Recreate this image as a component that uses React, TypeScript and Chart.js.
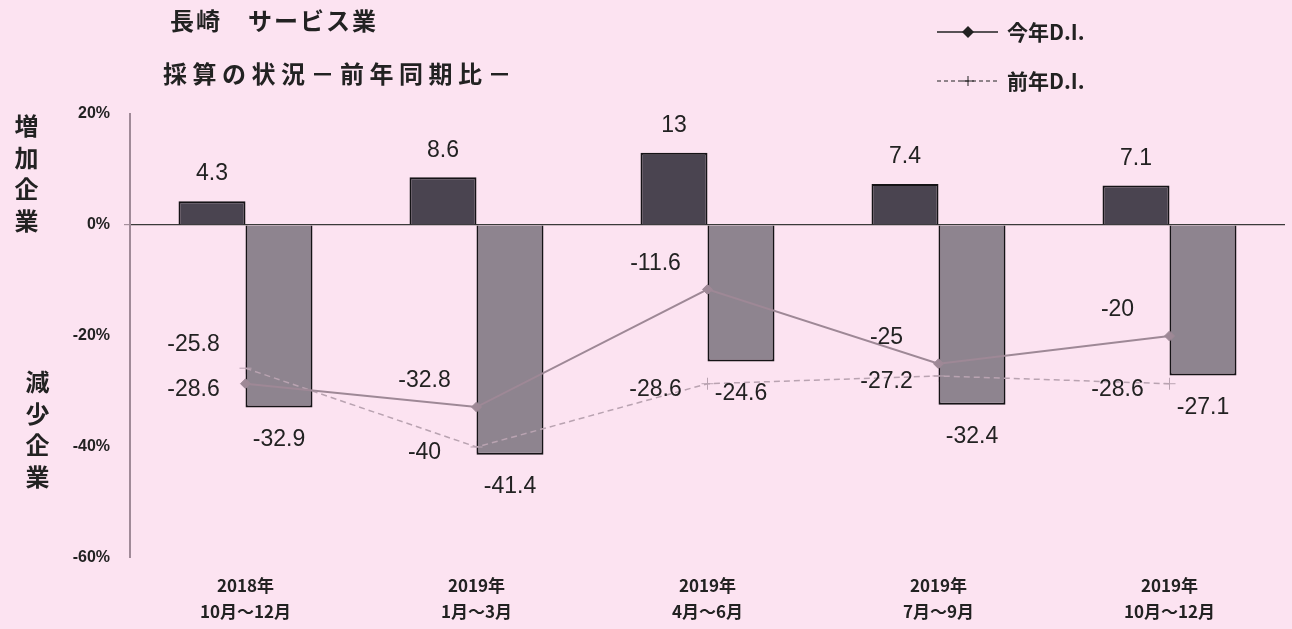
import React, { useEffect, useRef } from "react";
import { Chart, registerables } from "chart.js";

Chart.register(...registerables);

// ---- data ----
const categories: string[][] = [
  ["2018年", "10月～12月"],
  ["2019年", "1月～3月"],
  ["2019年", "4月～6月"],
  ["2019年", "7月～9月"],
  ["2019年", "10月～12月"],
];
const increaseValues = [4.3, 8.6, 13, 7.4, 7.1];
const decreaseValues = [-32.9, -41.4, -24.6, -32.4, -27.1];
const thisYearDI = [-28.6, -32.8, -11.6, -25, -20];
const lastYearDI = [-25.8, -40, -28.6, -27.2, -28.6];
const yMin = -60;
const yMax = 20;
const yStep = 20;
const titleLines = ["長崎　サービス業", "採算の状況－前年同期比－"];
const legendLabels = ["今年D.I.", "前年D.I."];
const sideLabels = ["増加企業", "減少企業"];

// ---- styles ----
const BG = "#fce3f1";
const TEXT = "#222222";
const CJK = '"Noto Sans CJK JP", "Noto Sans", sans-serif';
const NUM = '"Liberation Sans", Arial, sans-serif';

export default function App() {
  const ref = useRef<HTMLCanvasElement>(null);

  useEffect(() => {
    const canvas = ref.current!;

    const labelsPlugin = {
      id: "valueLabels",
      afterDatasetsDraw(chart: any) {
        const ctx = chart.ctx as CanvasRenderingContext2D;
        ctx.save();
        ctx.fillStyle = TEXT;
        ctx.font = `23px ${NUM}`;
        ctx.textAlign = "center";
        ctx.textBaseline = "middle";
        [0, 1].forEach((di) => {
          const meta = chart.getDatasetMeta(di);
          meta.data.forEach((el: any, i: number) => {
            const v = chart.data.datasets[di].data[i] as number;
            const y = v >= 0 ? el.y - 27 : el.y + 32;
            ctx.fillText(String(v), el.x, y);
          });
        });
        const mA = chart.getDatasetMeta(2);
        const mB = chart.getDatasetMeta(3);
        mA.data.forEach((el: any, i: number) => {
          const a = thisYearDI[i];
          const b = lastYearDI[i];
          const elB = mB.data[i];
          const aHigher = a >= b;
          ctx.fillText(String(a), el.x - 52, el.y + (aHigher ? -26 : 6));
          ctx.fillText(String(b), elB.x - 52, elB.y + (aHigher ? 6 : -24));
        });
        ctx.restore();
      },
      afterDraw(chart: any) {
        const ctx = chart.ctx as CanvasRenderingContext2D;
        ctx.save();
        // legend item 1: solid with diamond
        ctx.strokeStyle = "#222";
        ctx.fillStyle = "#222";
        ctx.lineWidth = 1.5;
        ctx.beginPath();
        ctx.moveTo(937, 32);
        ctx.lineTo(998, 32);
        ctx.stroke();
        ctx.beginPath();
        ctx.moveTo(968, 26);
        ctx.lineTo(974, 32);
        ctx.lineTo(968, 38);
        ctx.lineTo(962, 32);
        ctx.closePath();
        ctx.fill();
        // legend item 2: dashed with plus
        ctx.lineWidth = 1;
        ctx.setLineDash([4, 3]);
        ctx.beginPath();
        ctx.moveTo(937, 81);
        ctx.lineTo(998, 81);
        ctx.stroke();
        ctx.setLineDash([]);
        ctx.beginPath();
        ctx.moveTo(962, 81);
        ctx.lineTo(974, 81);
        ctx.moveTo(968, 76);
        ctx.lineTo(968, 86);
        ctx.stroke();
        ctx.font = `bold 21px ${CJK}`;
        ctx.textAlign = "left";
        ctx.textBaseline = "middle";
        ctx.fillStyle = TEXT;
        ctx.fillText(legendLabels[0], 1007, 32);
        ctx.fillText(legendLabels[1], 1007, 81);
        ctx.restore();
      },
    };

    const chart = new Chart(canvas, {
      type: "bar",
      data: {
        labels: categories,
        datasets: [
          {
            type: "bar",
            label: "増加企業",
            data: increaseValues,
            backgroundColor: "#4a4450",
            borderColor: "#151316",
            borderWidth: 2,
            categoryPercentage: 0.58,
            barPercentage: 1.0,
            order: 2,
          },
          {
            type: "bar",
            label: "減少企業",
            data: decreaseValues,
            backgroundColor: "#8e848f",
            borderColor: "#151316",
            borderWidth: 2,
            categoryPercentage: 0.58,
            barPercentage: 1.0,
            order: 2,
          },
          {
            type: "line",
            label: legendLabels[0],
            data: thisYearDI,
            borderColor: "#9e8896",
            backgroundColor: "#9e8896",
            borderWidth: 2,
            pointStyle: "rectRot",
            pointRadius: 5,
            pointBorderWidth: 1,
            order: 0,
          },
          {
            type: "line",
            label: legendLabels[1],
            data: lastYearDI,
            borderColor: "#b9a3b1",
            backgroundColor: "#b9a3b1",
            borderWidth: 1.5,
            borderDash: [6, 4],
            pointStyle: "cross",
            pointRadius: 6,
            pointBorderWidth: 1,
            order: 1,
          },
        ] as any,
      },
      options: {
        responsive: false,
        animation: false,
        layout: { padding: { top: 114, left: 0, right: 0, bottom: 0 } },
        plugins: {
          legend: { display: false },
          tooltip: { enabled: false },
          title: { display: false },
        },
        scales: {
          x: {
            offset: true,
            grid: { display: false, drawTicks: false },
            border: { display: false },
            ticks: {
              color: TEXT,
              font: { family: CJK, size: 17, weight: "bold", lineHeight: 1.5 },
              padding: 15,
              maxRotation: 0,
              autoSkip: false,
            },
            afterFit(scale: any) {
              scale.height = 71;
            },
          },
          y: {
            min: yMin,
            max: yMax,
            ticks: {
              stepSize: yStep,
              color: TEXT,
              font: { family: NUM, size: 16, weight: "bold" },
              padding: 14,
              callback: (v: any) => `${v}%`,
            },
            grid: {
              drawOnChartArea: true,
              drawTicks: true,
              tickLength: 6,
              tickColor: "#a58f9c",
              color: (c: any) => (c.tick && c.tick.value === 0 ? "#3a3a3a" : "rgba(0,0,0,0)"),
              lineWidth: (c: any) => (c.tick && c.tick.value === 0 ? 1.2 : 0),
            },
            border: { display: true, color: "#a08a98", width: 2 },
            afterFit(scale: any) {
              scale.width = 130;
            },
          },
        },
      } as any,
      plugins: [labelsPlugin],
    });

    return () => chart.destroy();
  }, []);

  const titleBase: React.CSSProperties = {
    position: "absolute",
    fontFamily: CJK,
    fontWeight: 700,
    color: TEXT,
    whiteSpace: "nowrap",
    lineHeight: "30px",
  };
  const sideStyle: React.CSSProperties = {
    position: "absolute",
    fontFamily: CJK,
    fontWeight: 700,
    fontSize: 24,
    letterSpacing: 7.5,
    writingMode: "vertical-rl",
    color: TEXT,
    lineHeight: "30px",
  };

  return (
    <div
      style={{
        position: "fixed",
        left: 0,
        top: 0,
        width: 1292,
        height: 629,
        background: BG,
        overflow: "hidden",
      }}
    >
      <canvas ref={ref} width={1292} height={629} style={{ position: "absolute", left: 0, top: 0 }} />
      <div style={{ ...titleBase, fontSize: 24, letterSpacing: 2, left: 170, top: 5 }}>{titleLines[0]}</div>
      <div style={{ ...titleBase, fontSize: 24, letterSpacing: 5.5, left: 163, top: 58 }}>{titleLines[1]}</div>
      <div style={{ ...sideStyle, left: 11, top: 114 }}>{sideLabels[0]}</div>
      <div style={{ ...sideStyle, left: 22, top: 370 }}>{sideLabels[1]}</div>
    </div>
  );
}
